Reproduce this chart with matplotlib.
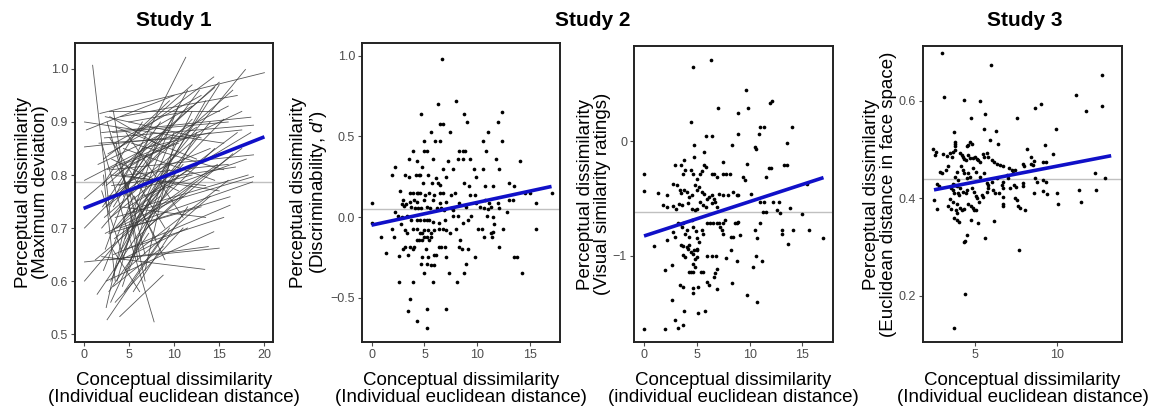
import matplotlib
matplotlib.use("Agg")
import matplotlib.pyplot as plt
import numpy as np

plt.rcParams["font.family"] = ["Liberation Sans", "DejaVu Sans"]
plt.rcParams["mathtext.fontset"] = "custom"
plt.rcParams["mathtext.it"] = "Liberation Sans:italic"
plt.rcParams["mathtext.rm"] = "Liberation Sans"

# ---- Study 1: per-participant fitted lines (x0, y0, x1, y1) ----
study1_lines = [
    (0.1, 0.900, 15.5, 0.860), (0.1, 0.853, 17.5, 0.885), (0.1, 0.790, 16.0, 0.930),
    (0.1, 0.755, 14.5, 0.965), (0.1, 0.700, 12.0, 0.905), (0.1, 0.636, 15.0, 0.662),
    (0.1, 0.600, 9.0, 0.780), (0.3, 0.885, 10.0, 0.950), (1.0, 1.007, 2.9, 0.730),
    (1.8, 0.916, 20.0, 0.993), (1.5, 0.575, 10.5, 0.800), (2.6, 0.527, 9.5, 0.700),
    (4.0, 0.533, 8.8, 0.611), (2.0, 0.860, 7.8, 0.523), (2.0, 0.646, 13.4, 0.622),
    (2.9, 0.640, 13.8, 0.665), (2.5, 0.600, 14.4, 0.693), (2.9, 0.740, 11.3, 1.022),
    (3.0, 0.690, 17.9, 0.999), (2.2, 0.830, 14.4, 0.985), (2.5, 0.780, 15.0, 0.975),
    (3.2, 0.760, 16.5, 0.960), (2.0, 0.880, 18.5, 0.909), (2.3, 0.870, 18.8, 0.894),
    (3.0, 0.810, 18.8, 0.838), (3.5, 0.720, 18.8, 0.797), (4.0, 0.700, 18.7, 0.787),
    (2.8, 0.690, 16.2, 0.759), (3.3, 0.650, 16.2, 0.743), (2.4, 0.910, 13.0, 0.870),
    (3.6, 0.890, 12.5, 0.830), (2.1, 0.740, 8.5, 0.900), (3.0, 0.600, 10.0, 0.880),
    (3.4, 0.620, 12.0, 0.920), (4.2, 0.660, 13.5, 0.940), (3.7, 0.700, 15.5, 0.905),
    (4.5, 0.720, 17.0, 0.880), (2.7, 0.760, 12.0, 0.800), (3.9, 0.780, 14.0, 0.850),
    (4.8, 0.800, 16.0, 0.820), (3.1, 0.830, 10.5, 0.770), (4.4, 0.850, 14.5, 0.790),
    (2.6, 0.810, 9.5, 0.860), (5.0, 0.760, 11.5, 0.960), (4.6, 0.680, 10.5, 0.930),
    (3.8, 0.640, 8.0, 0.860), (5.2, 0.640, 12.5, 0.880), (5.5, 0.700, 17.5, 0.850),
    (6.0, 0.730, 15.0, 0.970), (3.0, 0.560, 9.0, 0.780), (4.3, 0.590, 7.5, 0.760),
    (5.0, 0.620, 9.5, 0.820), (2.4, 0.660, 6.5, 0.850), (3.5, 0.560, 11.0, 0.700),
    (6.5, 0.760, 18.0, 0.830), (2.0, 0.700, 7.0, 0.800), (3.2, 0.880, 16.0, 0.900),
    (1.7, 0.860, 11.5, 0.870), (4.1, 0.910, 17.0, 0.950), (5.8, 0.800, 12.8, 0.960),
    (2.2, 0.620, 5.5, 0.760), (3.6, 0.820, 8.0, 0.680), (2.9, 0.870, 9.0, 0.700),
    (4.7, 0.880, 11.0, 0.720), (3.3, 0.920, 6.0, 0.640), (3.6, 0.860, 6.8, 0.600),
    (2.5, 0.550, 4.5, 0.700), (5.5, 0.580, 11.5, 0.740), (6.2, 0.660, 16.0, 0.790),
    (7.0, 0.700, 16.5, 0.840), (2.3, 0.720, 12.5, 0.870), (3.4, 0.680, 14.8, 0.820),
    (4.9, 0.740, 18.5, 0.880), (2.7, 0.840, 12.0, 0.930), (3.8, 0.760, 10.0, 0.910),
    (4.2, 0.800, 15.0, 0.770), (5.3, 0.860, 15.5, 0.810), (2.1, 0.780, 6.5, 0.900),
    (3.0, 0.720, 9.5, 0.810), (4.6, 0.620, 14.0, 0.760), (5.8, 0.680, 12.0, 0.780),
    (3.7, 0.600, 6.0, 0.740), (2.8, 0.580, 7.2, 0.690), (4.4, 0.760, 7.5, 0.880),
    (5.0, 0.900, 11.5, 0.920), (6.5, 0.850, 14.0, 0.880), (3.1, 0.780, 16.8, 0.815),
    (4.8, 0.700, 13.0, 0.740), (2.4, 0.690, 11.0, 0.760), (3.9, 0.850, 9.5, 0.940),
    (5.6, 0.760, 9.0, 0.640), (4.0, 0.740, 13.5, 0.720), (6.8, 0.620, 10.0, 0.860),
    (3.5, 0.800, 12.5, 0.890), (2.6, 0.900, 5.0, 0.760), (5.2, 0.820, 17.5, 0.920),
    (1.3, 0.640, 5.5, 0.700), (2.0, 0.770, 4.5, 0.640), (4.5, 0.580, 9.0, 0.690),
    (3.3, 0.740, 7.0, 0.840), (7.5, 0.760, 14.0, 0.900), (2.9, 0.910, 8.0, 0.860),
    (4.3, 0.820, 10.5, 0.860), (5.9, 0.720, 11.0, 0.820), (3.2, 0.660, 6.2, 0.580),
    (2.2, 0.800, 3.5, 0.600), (6.0, 0.880, 12.0, 0.970), (3.0, 0.800, 13.5, 0.780),
    (4.7, 0.660, 15.5, 0.720), (3.6, 0.700, 8.5, 0.760), (1.6, 0.820, 9.0, 0.880),
    (5.4, 0.700, 14.5, 0.850), (2.5, 0.740, 10.0, 0.840), (4.1, 0.640, 11.5, 0.700),
    (3.4, 0.860, 13.0, 0.950), (6.3, 0.740, 18.2, 0.800), (2.8, 0.920, 15.0, 0.920),
    (3.3, 0.590, 8.8, 0.665), (4.9, 0.780, 6.8, 0.650),
]
study1_fit_x = [0, 20]
study1_fit_y = [0.737, 0.872]
study1_mean = 0.787

# ---- Study 2a: discriminability d' ----
study2a_points = [
    (6.7, 0.98), (7.96, 0.72), (6.26, 0.70), (12.36, 0.65), (4.65, 0.64), (8.74, 0.64),
    (6.5, 0.58), (6.76, 0.58), (9.0, 0.59), (11.9, 0.59), (5.66, 0.53), (7.42, 0.53),
    (11.0, 0.53), (5.0, 0.47), (5.97, 0.47), (6.45, 0.47), (10.5, 0.47), (12.3, 0.47),
    (3.93, 0.41), (4.94, 0.41), (5.2, 0.41), (8.24, 0.41), (8.6, 0.41), (8.84, 0.41),
    (10.85, 0.41), (3.52, 0.36), (4.28, 0.35), (5.8, 0.36), (7.23, 0.35), (8.18, 0.36),
    (8.6, 0.36), (9.28, 0.36), (11.8, 0.36), (14.06, 0.35), (2.2, 0.31), (4.78, 0.31),
    (6.76, 0.30), (7.7, 0.30), (9.69, 0.30), (10.5, 0.30), (12.0, 0.30), (1.98, 0.26),
    (3.14, 0.26), (3.55, 0.25), (4.18, 0.26), (4.5, 0.26), (4.56, 0.26), (5.35, 0.26),
    (6.13, 0.24), (7.0, 0.25), (9.9, 0.25), (4.87, 0.21), (5.75, 0.21), (6.3, 0.21),
    (6.5, 0.20), (8.74, 0.21), (9.2, 0.195), (10.72, 0.195), (11.5, 0.195), (13.0, 0.21),
    (13.5, 0.195), (2.67, 0.16), (3.6, 0.15), (3.93, 0.15), (4.25, 0.15), (4.37, 0.15),
    (4.56, 0.15), (5.03, 0.14), (5.44, 0.15), (5.9, 0.14), (6.5, 0.15), (6.76, 0.15),
    (7.55, 0.14), (7.86, 0.15), (9.28, 0.14), (9.8, 0.14), (12.98, 0.105), (13.36, 0.105),
    (14.47, 0.15), (15.0, 0.15), (17.0, 0.15), (15.5, 0.085), (2.99, 0.105), (3.6, 0.095),
    (4.0, 0.105), (4.3, 0.095), (4.97, 0.105), (5.8, 0.105), (6.45, 0.09), (7.07, 0.095),
    (8.3, 0.09), (10.7, 0.105), (11.07, 0.09), (11.9, 0.09), (2.9, 0.08), (3.05, 0.07),
    (3.3, 0.08), (3.77, 0.065), (4.1, 0.054), (4.4, 0.054), (4.7, 0.054), (5.2, 0.065),
    (5.5, 0.054), (6.2, 0.054), (6.57, 0.054), (6.82, 0.044), (7.5, 0.054), (7.7, 0.044),
    (8.96, 0.065), (9.84, 0.085), (10.2, 0.065), (10.6, 0.054), (10.97, 0.048), (11.26, 0.065),
    (12.0, 0.054), (0.0, 0.085), (2.2, 0.033), (2.5, 0.006), (2.9, 0.002), (3.37, 0.006),
    (3.77, -0.018), (4.25, -0.018), (4.56, -0.018), (4.94, -0.018), (5.2, -0.018), (5.44, -0.018),
    (5.8, -0.03), (6.35, -0.035), (6.92, -0.018), (7.7, 0.006), (8.18, 0.006), (8.65, -0.035),
    (9.1, -0.018), (9.43, 0.006), (10.9, 0.006), (11.5, 0.002), (12.8, 0.033), (11.6, -0.04),
    (0.0, -0.035), (0.94, -0.126), (1.98, -0.077), (2.83, -0.045), (3.14, -0.08), (3.37, -0.097),
    (3.93, -0.077), (4.25, -0.077), (4.56, -0.10), (4.78, -0.10), (4.94, -0.08), (5.35, -0.08),
    (5.66, -0.097), (5.9, -0.08), (6.4, -0.077), (6.76, -0.077), (7.0, -0.08), (7.45, -0.10),
    (7.96, -0.077), (10.06, -0.077), (10.47, -0.077), (11.5, -0.09), (12.4, -0.077), (15.56, -0.077),
    (1.32, -0.225), (2.14, -0.126), (2.99, -0.195), (3.2, -0.185), (3.6, -0.185), (3.87, -0.195),
    (4.25, -0.143), (4.5, -0.143), (4.72, -0.143), (4.94, -0.126), (5.2, -0.126), (5.44, -0.143),
    (5.66, -0.126), (4.0, -0.185), (5.1, -0.195), (6.35, -0.185), (6.6, -0.185), (6.9, -0.185),
    (8.3, -0.185), (8.5, -0.195), (9.1, -0.195), (8.4, -0.143), (10.6, -0.126), (11.26, -0.10),
    (11.35, -0.126), (12.0, -0.185), (2.6, -0.24), (3.4, -0.236), (4.78, -0.246), (5.35, -0.246),
    (5.88, -0.236), (6.13, -0.236), (7.0, -0.246), (9.75, -0.246), (13.5, -0.246), (13.77, -0.246),
    (4.65, -0.29), (5.2, -0.29), (5.66, -0.30), (5.88, -0.30), (8.96, -0.29), (4.97, -0.345),
    (7.33, -0.345), (8.74, -0.345), (14.18, -0.345), (2.6, -0.40), (3.87, -0.40), (5.8, -0.40),
    (8.1, -0.40), (3.6, -0.51), (3.46, -0.58), (5.25, -0.57), (7.07, -0.57), (4.3, -0.645),
    (5.25, -0.69),
]
study2a_fit_x = [0, 17]
study2a_fit_y = [-0.05, 0.19]
study2a_mean = 0.05

# ---- Study 2b: visual similarity ratings ----
study2b_points = [
    (6.35, 0.706), (4.67, 0.648), (9.66, 0.45), (12.16, 0.35), (11.93, 0.334), (7.04, 0.29),
    (9.82, 0.29), (8.89, 0.247), (4.42, 0.169), (10.93, 0.067), (11.4, 0.125), (11.0, 0.125),
    (14.05, 0.125), (8.87, 0.061), (5.87, 0.044), (6.41, 0.044), (8.3, -0.035), (4.74, -0.035),
    (10.55, -0.05), (10.6, -0.07), (13.5, -0.012), (5.68, -0.093), (4.74, -0.137), (7.45, -0.18),
    (2.94, -0.21), (3.5, -0.21), (3.79, -0.166), (9.73, -0.195), (5.7, -0.203), (5.84, -0.224),
    (0.0, -0.29), (3.88, -0.253), (3.73, -0.282), (4.42, -0.253), (4.6, -0.282), (5.3, -0.282),
    (5.46, -0.259), (4.99, -0.326), (6.44, -0.282), (6.66, -0.282), (6.88, -0.31), (7.45, -0.29),
    (7.77, -0.282), (8.15, -0.29), (9.41, -0.31), (9.6, -0.34), (11.8, -0.23), (12.0, -0.23),
    (11.52, -0.31), (13.26, -0.21), (13.5, -0.21), (15.47, -0.37), (0.0, -0.436), (1.36, -0.45),
    (2.2, -0.47), (2.78, -0.37), (3.16, -0.384), (3.4, -0.427), (3.5, -0.45), (3.82, -0.427),
    (4.04, -0.442), (4.26, -0.485), (4.5, -0.47), (4.83, -0.384), (4.99, -0.427), (5.24, -0.398),
    (5.46, -0.442), (5.68, -0.456), (5.94, -0.5), (6.19, -0.485), (6.41, -0.47), (6.63, -0.5),
    (7.14, -0.456), (7.45, -0.47), (7.99, -0.47), (8.46, -0.442), (8.78, -0.47), (8.89, -0.47),
    (10.1, -0.456), (11.0, -0.53), (11.37, -0.53), (12.25, -0.53), (12.8, -0.53), (13.83, -0.58),
    (15.0, -0.63), (1.83, -0.56), (2.2, -0.573), (2.78, -0.567), (3.0, -0.587), (3.35, -0.544),
    (3.57, -0.558), (4.2, -0.538), (4.5, -0.587), (4.83, -0.6), (5.05, -0.587), (5.3, -0.53),
    (5.62, -0.558), (5.87, -0.573), (6.41, -0.538), (6.73, -0.53), (6.95, -0.573), (11.3, -0.616),
    (11.6, -0.616), (12.57, -0.6), (12.88, -0.625), (7.7, -0.683), (0.98, -0.916), (2.2, -0.858),
    (2.94, -0.834), (2.78, -0.79), (3.25, -0.712), (3.4, -0.724), (3.57, -0.747), (3.73, -0.712),
    (3.88, -0.805), (4.04, -0.77), (4.26, -0.834), (4.5, -0.69), (4.67, -0.747), (4.93, -0.78),
    (5.05, -0.84), (5.24, -0.878), (5.46, -0.776), (5.62, -0.805), (5.94, -0.712), (6.25, -0.712),
    (6.57, -0.712), (6.88, -0.712), (7.14, -0.712), (7.45, -0.712), (7.2, -0.747), (7.36, -0.776),
    (7.5, -0.805), (8.2, -0.834), (8.46, -0.834), (8.62, -0.712), (8.78, -0.712), (8.94, -0.703),
    (9.09, -0.82), (10.55, -0.776), (10.67, -0.84), (11.0, -0.712), (13.04, -0.77), (13.04, -0.805),
    (14.15, -0.776), (15.66, -0.776), (17.0, -0.84), (13.6, -0.9), (3.47, -0.907), (3.66, -0.916),
    (4.04, -0.92), (4.2, -0.936), (4.29, -0.907), (4.42, -0.965), (4.6, -0.98), (4.74, -0.945),
    (4.99, -0.95), (5.05, -0.936), (3.9, -1.01), (3.73, -0.994), (4.83, -1.03), (4.99, -1.01),
    (5.94, -1.0), (6.41, -1.0), (6.82, -1.0), (7.74, -1.02), (8.78, -1.04), (10.58, -1.0),
    (11.2, -1.04), (10.36, -1.1), (8.2, -0.945), (1.99, -1.12), (2.62, -1.08), (4.29, -1.14),
    (4.45, -1.14), (4.6, -1.14), (4.83, -1.1), (4.67, -1.07), (5.37, -1.14), (5.56, -1.14),
    (6.73, -1.148), (6.95, -1.11), (6.66, -1.18), (3.4, -1.256), (3.66, -1.27), (4.6, -1.276),
    (4.67, -1.32), (5.15, -1.27), (5.94, -1.227), (6.16, -1.256), (6.88, -1.29), (8.3, -1.24),
    (9.73, -1.34), (10.67, -1.4), (2.62, -1.38), (3.82, -1.48), (5.15, -1.5), (5.78, -1.48),
    (2.94, -1.56), (3.25, -1.625), (3.73, -1.6), (0.0, -1.64), (1.99, -1.64),
]
study2b_fit_x = [0, 17]
study2b_fit_y = [-0.826, -0.317]
study2b_mean = -0.62

# ---- Study 3: euclidean distance in face space ----
study3_points = [
    (2.97, 0.697), (3.11, 0.607), (5.98, 0.673), (4.33, 0.601), (5.3, 0.599), (11.16, 0.612),
    (12.76, 0.653), (12.72, 0.588), (11.77, 0.579), (9.02, 0.594), (8.66, 0.584), (5.61, 0.573),
    (4.74, 0.564), (7.54, 0.564), (3.7, 0.536), (5.55, 0.541), (6.28, 0.538), (9.94, 0.541),
    (2.42, 0.5), (3.8, 0.516), (3.8, 0.511), (3.8, 0.506), (3.8, 0.499), (4.69, 0.516),
    (4.8, 0.512), (4.59, 0.509), (4.49, 0.506), (5.92, 0.519), (6.42, 0.511), (2.62, 0.495),
    (2.56, 0.489), (3.07, 0.49), (3.27, 0.486), (3.48, 0.492), (3.68, 0.495), (3.6, 0.485),
    (4.09, 0.492), (4.19, 0.489), (4.29, 0.485), (4.33, 0.48), (4.45, 0.478), (4.59, 0.489),
    (4.69, 0.482), (4.86, 0.482), (5.0, 0.485), (5.1, 0.48), (5.2, 0.478), (5.3, 0.475),
    (5.5, 0.49), (5.55, 0.485), (5.71, 0.492), (5.81, 0.485), (6.02, 0.478), (6.16, 0.475),
    (6.32, 0.471), (6.52, 0.468), (6.69, 0.465), (7.09, 0.461), (7.24, 0.458), (8.15, 0.5),
    (8.4, 0.485), (8.62, 0.476), (8.4, 0.47), (8.56, 0.468), (9.27, 0.509), (9.17, 0.475),
    (9.33, 0.475), (9.78, 0.49), (7.9, 0.471), (7.99, 0.465), (7.44, 0.458), (7.34, 0.452),
    (6.93, 0.448), (7.03, 0.441), (6.69, 0.434), (6.63, 0.427), (6.69, 0.42), (6.32, 0.441),
    (6.02, 0.434), (5.71, 0.432), (5.81, 0.427), (5.55, 0.451), (5.3, 0.444), (4.9, 0.461),
    (5.06, 0.454), (4.59, 0.451), (4.69, 0.444), (4.49, 0.441), (4.13, 0.465), (4.25, 0.458),
    (4.33, 0.451), (3.88, 0.453), (3.78, 0.444), (3.98, 0.437), (3.37, 0.465), (3.23, 0.458),
    (2.87, 0.454), (2.97, 0.451), (2.71, 0.43), (2.83, 0.424), (3.68, 0.43), (3.78, 0.427),
    (3.92, 0.424), (4.09, 0.42), (3.54, 0.42), (3.68, 0.417), (3.74, 0.411), (3.94, 0.41),
    (4.04, 0.407), (4.29, 0.413), (4.45, 0.41), (4.53, 0.417), (4.8, 0.42), (4.94, 0.413),
    (5.06, 0.404), (5.14, 0.4), (5.26, 0.393), (5.4, 0.406), (5.5, 0.402), (5.71, 0.413),
    (5.81, 0.42), (6.12, 0.417), (6.22, 0.41), (6.48, 0.41), (6.69, 0.403), (6.73, 0.389),
    (6.73, 0.383), (7.4, 0.427), (7.5, 0.422), (7.13, 0.42), (7.9, 0.432), (7.95, 0.424),
    (7.44, 0.4), (7.54, 0.396), (7.64, 0.383), (7.74, 0.379), (8.05, 0.376), (8.66, 0.441),
    (8.76, 0.434), (9.12, 0.437), (9.33, 0.434), (8.62, 0.411), (9.17, 0.415), (9.41, 0.408),
    (9.98, 0.411), (10.08, 0.389), (11.35, 0.417), (11.45, 0.393), (12.32, 0.451), (12.38, 0.417),
    (12.93, 0.441), (2.52, 0.396), (2.66, 0.377), (3.48, 0.398), (3.68, 0.393), (3.37, 0.383),
    (3.52, 0.377), (3.88, 0.389), (3.84, 0.376), (3.92, 0.369), (4.09, 0.379), (4.19, 0.376),
    (4.33, 0.377), (4.59, 0.388), (4.74, 0.383), (4.86, 0.379), (4.94, 0.376), (5.06, 0.376),
    (3.72, 0.359), (3.88, 0.355), (4.04, 0.352), (4.74, 0.355), (5.2, 0.35), (6.18, 0.354),
    (4.49, 0.324), (4.33, 0.311), (4.41, 0.313), (5.61, 0.318), (7.68, 0.294), (4.39, 0.203),
    (3.7, 0.133),
]
study3_fit_x = [2.5, 13.3]
study3_fit_y = [0.417, 0.487]
study3_mean = 0.439

BLUE = "#1010c8"
TICK_GREY = "#4d4d4d"


def style_axes(ax, xlim, ylim, xticks, yticks, yticklabels, ylabel, xlabel):
    ax.set_xlim(*xlim)
    ax.set_ylim(*ylim)
    ax.set_xticks(xticks)
    ax.set_yticks(yticks)
    ax.set_yticklabels(yticklabels)
    for sp in ax.spines.values():
        sp.set_linewidth(1.4)
        sp.set_color("#222222")
    ax.tick_params(axis="both", colors=TICK_GREY, labelsize=9, length=3, width=0.8,
                   pad=2)
    ax.set_ylabel(ylabel, fontsize=13.5, linespacing=1.05, labelpad=1)
    ax.set_xlabel(xlabel, fontsize=13.5, linespacing=1.0, labelpad=8)


def scatter_panel(ax, points, fit_x, fit_y, mean):
    pts = np.array(points)
    ax.axhline(mean, color="#c0c0c0", lw=1.0, zorder=1)
    ax.scatter(pts[:, 0], pts[:, 1], s=7, color="black", linewidths=0, zorder=2)
    ax.plot(fit_x, fit_y, color=BLUE, lw=2.6, solid_capstyle="butt", zorder=3)


fig = plt.figure(figsize=(11.51, 4.12), dpi=100)

bottom = 1 - 342 / 412
ax1 = fig.add_axes([75 / 1151, bottom, 198 / 1151, (342 - 43) / 412])
ax2 = fig.add_axes([362 / 1151, bottom, 198 / 1151, (342 - 43) / 412])
ax3 = fig.add_axes([634 / 1151, bottom, 199 / 1151, (342 - 46) / 412])
ax4 = fig.add_axes([923 / 1151, bottom, 199 / 1151, (342 - 46) / 412])

# Study 1
ax1.axhline(study1_mean, color="#c0c0c0", lw=1.0, zorder=1)
for x0, y0, x1, y1 in study1_lines:
    ax1.plot([x0, x1], [y0, y1], color="#3a3a3a", lw=0.6, alpha=0.85, zorder=2)
ax1.plot(study1_fit_x, study1_fit_y, color=BLUE, lw=2.6, solid_capstyle="butt", zorder=3)
style_axes(ax1, (-0.95, 20.95), (0.485, 1.049), [0, 5, 10, 15, 20],
           [0.5, 0.6, 0.7, 0.8, 0.9, 1.0], ["0.5", "0.6", "0.7", "0.8", "0.9", "1.0"],
           "Perceptual dissimilarity\n(Maximum deviation)",
           "Conceptual dissimilarity\n(Individual euclidean distance)")

# Study 2a
scatter_panel(ax2, study2a_points, study2a_fit_x, study2a_fit_y, study2a_mean)
style_axes(ax2, (-0.9, 17.8), (-0.775, 1.08), [0, 5, 10, 15],
           [-0.5, 0.0, 0.5, 1.0], ["\u22120.5", "0.0", "0.5", "1.0"],
           "Perceptual dissimilarity\n(Discriminability, $d$\u2019)",
           "Conceptual dissimilarity\n(Individual euclidean distance)")

# Study 2b
scatter_panel(ax3, study2b_points, study2b_fit_x, study2b_fit_y, study2b_mean)
style_axes(ax3, (-0.95, 17.9), (-1.75, 0.83), [0, 5, 10, 15],
           [-1, 0], ["\u22121", "0"],
           "Perceptual dissimilarity\n(Visual similarity ratings)",
           "Conceptual dissimilarity\n(individual euclidean distance)")

# Study 3
scatter_panel(ax4, study3_points, study3_fit_x, study3_fit_y, study3_mean)
style_axes(ax4, (1.83, 13.96), (0.105, 0.712), [5, 10],
           [0.2, 0.4, 0.6], ["0.2", "0.4", "0.6"],
           "Perceptual dissimilarity\n(Euclidean distance in face space)",
           "Conceptual dissimilarity\n(Individual euclidean distance)")

fig.text(174 / 1151, 1 - 21 / 412, "Study 1", ha="center", va="center",
         fontsize=15, fontweight="bold")
fig.text(593 / 1151, 1 - 21 / 412, "Study 2", ha="center", va="center",
         fontsize=15, fontweight="bold")
fig.text(1025 / 1151, 1 - 21 / 412, "Study 3", ha="center", va="center",
         fontsize=15, fontweight="bold")

fig.savefig("out.png", dpi=100)
